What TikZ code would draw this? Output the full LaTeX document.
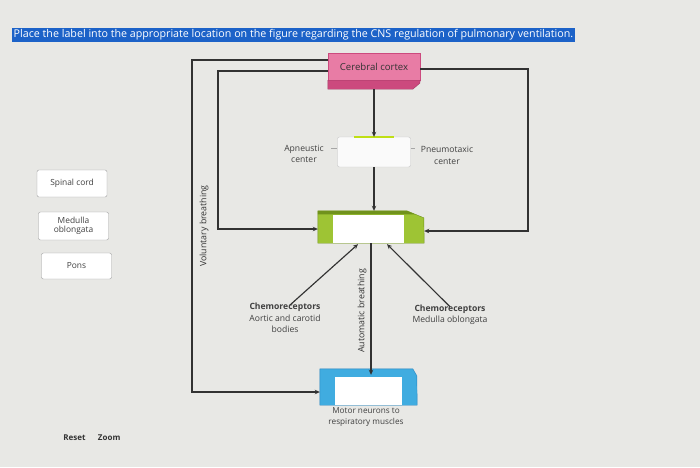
\documentclass[tikz,border=0pt]{standalone}
\usepackage{fontspec}
\setmainfont{Open Sans}
\usetikzlibrary{arrows.meta,positioning,calc}
\definecolor{bgpaper}{RGB}{232,232,229}
\definecolor{titleblue}{RGB}{28,98,200}
\definecolor{cortexpink}{RGB}{232,124,165}
\definecolor{cortexdark}{RGB}{204,74,126}
\definecolor{medgreen}{RGB}{158,196,52}
\definecolor{medgreendark}{RGB}{112,146,28}
\definecolor{motorblue}{RGB}{64,172,224}
\definecolor{motorbluedark}{RGB}{36,130,190}
\definecolor{wiregray}{RGB}{50,50,50}
\tikzstyle{dragbox} = [rectangle, draw=gray!75, fill=white, rounded corners=2pt,
                       align=center, minimum width=70pt, minimum height=27pt,
                       inner sep=1pt, text=black!75, font=\fontsize{8.4}{9.5}\selectfont]
\tikzstyle{caption} = [align=center, inner sep=0pt, text=black!75,
                       font=\fontsize{8.6}{11.5}\selectfont]
\tikzstyle{sidetext} = [rotate=90, inner sep=0pt, text=black!80,
                        font=\fontsize{8.8}{10}\selectfont]
\tikzstyle{wire} = [draw=wiregray, line width=1.15pt]
\tikzstyle{arrow} = [wire, -{Stealth[length=5pt,width=4.5pt]}]

\begin{document}
\begin{tikzpicture}[x=1pt, y=-1pt]
    \fill [bgpaper] (0,0) rectangle (700,467);
    \useasboundingbox (0,0) rectangle (700,467);

    \node [anchor=west, fill=titleblue, text=white, inner sep=1.5pt,
           font=\fontsize{10.7}{11.5}\selectfont] (title) at (12,35)
          {Place the label into the appropriate location on the figure regarding the CNS regulation of pulmonary ventilation.};

    % answer labels
    \node [dragbox] (spinal) at (72,183.5) {Spinal cord};
    \node [dragbox, minimum height=28pt] (medlabel) at (73.5,226) {Medulla\\oblongata};
    \node [dragbox, minimum height=26pt] (ponslabel) at (76.5,266) {Pons};

    % brain parts
    \node [rectangle, fill=cortexpink, draw=cortexdark, minimum width=92pt,
           minimum height=27pt, inner sep=0pt, text=black!80,
           font=\fontsize{9.6}{10}\selectfont] (cortex) at (374,66.5) {Cerebral cortex};
    \filldraw [fill=cortexdark, draw=cortexdark!80!black]
        (cortex.south west) -- ++(0,9) -- ++(85,0) -- ++(7,-6) -- (cortex.south east) -- cycle;
    \coordinate (cortexbase) at ($(cortex.south)+(0,9)$);

    \node [rectangle, fill=white!96!gray, draw=gray!45, rounded corners=2pt,
           minimum width=73pt, minimum height=30pt] (pons) at (374,152) {};
    \draw [yellow!75!green, line width=1.4pt] ($(pons.north)+(-20,0)$) -- ++(40,0);

    \node [minimum width=106pt, minimum height=32pt, inner sep=0pt] (medulla) at (371,227) {};
    \filldraw [fill=medgreen, draw=medgreendark]
        (medulla.south west) -- (medulla.north west) -- ++(89,0) -- ++(17,7) -- (medulla.south east) -- cycle;
    \fill [medgreendark] (medulla.north west) -- ++(89,0) -- ++(8,3.5) -- ++(-97,0) -- cycle;
    \fill [white] ($(medulla.south west)+(15,0)$) rectangle ($(medulla.north east)+(-20,4)$);

    \node [minimum width=97pt, minimum height=36pt, inner sep=0pt] (motor) at (368.5,387) {};
    \filldraw [fill=motorblue, draw=motorbluedark]
        (motor.south west) -- (motor.north west) -- ++(93,0) -- ++(4,7) -- (motor.south east) -- cycle;
    \fill [white] ($(motor.south west)+(15,0)$) rectangle ($(motor.north east)+(-15,8)$);

    % captions
    \node [caption] (apneustic) at (304,154) {Apneustic\\center};
    \node [caption] (pneumotaxic) at (447,155.5) {Pneumotaxic\\center};
    \node [caption] (chemoL) at (285,318) {\textbf{Chemoreceptors}\\Aortic and carotid\\bodies};
    \node [caption] (chemoR) at (450,315) {\textbf{Chemoreceptors}\\Medulla oblongata};
    \node [caption, font=\fontsize{8.2}{11}\selectfont] (motortext) at (366,417.5) {Motor neurons to\\respiratory muscles};
    \node [sidetext] (voluntary) at (204,226) {Voluntary breathing};
    \node [sidetext] (automatic) at (362,311) {Automatic breathing};

    \draw [gray!70, thin] ($(pons.west)+(-6,-4)$) -- (pons.west |- 0,148);
    \draw [gray!70, thin] (pons.east |- 0,148) -- ++(4,0);

    % pathways
    \coordinate (voltop) at (192,60);
    \coordinate (volbot) at (192,392);
    \coordinate (innertop) at (218,71);
    \coordinate (innerbot) at (218,229);
    \coordinate (righttop) at (528,69);
    \coordinate (rightbot) at (528,231);

    \draw [arrow] ($(cortex.west)+(0,-6.5)$) -- (voltop) -- (volbot) -- ($(motor.west)+(0,5)$);
    \draw [arrow] ($(cortex.west)+(0,4.5)$) -- (innertop) -- (innerbot) -- ($(medulla.west)+(0,2)$);
    \draw [arrow] ($(cortex.east)+(0,2.5)$) -- (righttop) -- (rightbot) -- ($(medulla.east)+(0,4)$);
    \draw [arrow] (cortexbase) -- (pons.north);
    \draw [arrow] (pons.south) -- (pons.south |- medulla.north);
    \draw [arrow] (medulla.south) -- ($(medulla.south |- motor.north)+(0,6)$);
    \draw [arrow] ($(chemoL.north)+(5,2)$) -- ($(medulla.south)+(-13,1)$);
    \draw [arrow] ($(chemoR.north)+(0,2)$) -- ($(medulla.south)+(16,1)$);

    % bottom controls
    \node [inner sep=0pt, text=black!80, font=\bfseries\fontsize{8}{9}\selectfont] (reset) at (74.5,438) {Reset};
    \node [inner sep=0pt, text=black!80, font=\bfseries\fontsize{8}{9}\selectfont, right=12pt of reset] (zoom) {Zoom};
\end{tikzpicture}
\end{document}
